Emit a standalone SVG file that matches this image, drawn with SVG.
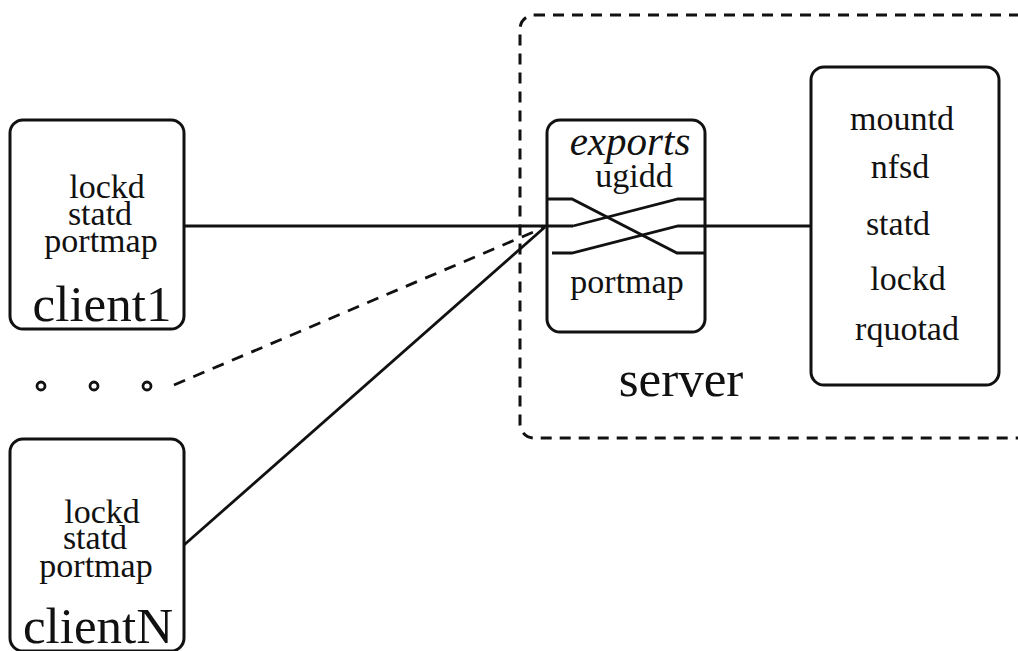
<svg xmlns="http://www.w3.org/2000/svg" width="1018" height="651" viewBox="0 0 1018 651">
  <style>
    .box { fill: none; stroke: #111; stroke-width: 3; }
    .dash { fill: none; stroke: #111; stroke-width: 3; stroke-dasharray: 11 8; }
    .wire { fill: none; stroke: #111; stroke-width: 2.8; }
    .dwire { fill: none; stroke: #111; stroke-width: 2.8; stroke-dasharray: 12 9; }
    .dot { fill: none; stroke: #111; stroke-width: 2.8; }
    text { font-family: "Liberation Serif", "Times New Roman", serif; fill: #111; text-anchor: middle; }
    .svc { font-size: 34px; }
    .host { font-size: 51px; }
    .exp { font-size: 41px; font-style: italic; }
  </style>
  <rect width="1018" height="651" fill="#fff"/>

  <!-- server enclosure -->
  <g id="server">
    <rect class="dash" x="520" y="15" width="530" height="423" rx="14"/>
    <text class="host" x="681" y="396">server</text>
  </g>

  <!-- connectors -->
  <g id="connectors">
    <line class="wire" x1="184" y1="226" x2="573" y2="226"/>
    <line class="wire" x1="184" y1="545" x2="545" y2="227"/>
    <line class="dwire" x1="174" y1="385" x2="543" y2="228"/>
    <!-- crossover inside the export filter -->
    <path class="wire" d="M547,199 H572 L677,253 H705"/>
    <path class="wire" d="M573,226 L678,199 H705"/>
    <path class="wire" d="M552,253 H572 L678,226 H810"/>
  </g>

  <g id="client1">
    <rect class="box" x="10" y="120" width="174" height="209" rx="13"/>
    <text class="svc" x="107" y="198">lockd</text>
    <text class="svc" x="100" y="225">statd</text>
    <text class="svc" x="101" y="252">portmap</text>
    <text class="host" x="102" y="321">client1</text>
  </g>

  <g id="more-clients">
    <circle class="dot" cx="41" cy="386" r="4"/>
    <circle class="dot" cx="94" cy="386" r="4"/>
    <circle class="dot" cx="147" cy="386" r="4"/>
  </g>

  <g id="clientN">
    <rect class="box" x="10" y="439" width="174" height="212" rx="13"/>
    <text class="svc" x="102" y="523">lockd</text>
    <text class="svc" x="95" y="549">statd</text>
    <text class="svc" x="96" y="577">portmap</text>
    <text class="host" x="98" y="643">clientN</text>
  </g>

  <g id="exports">
    <rect class="box" x="547" y="120" width="158" height="212" rx="13"/>
    <text class="exp" x="630" y="155">exports</text>
    <text class="svc" x="634" y="187">ugidd</text>
    <text class="svc" x="627" y="293">portmap</text>
  </g>

  <g id="daemons">
    <rect class="box" x="811" y="67" width="188" height="318" rx="13"/>
    <text class="svc" x="902" y="130">mountd</text>
    <text class="svc" x="900" y="178">nfsd</text>
    <text class="svc" x="898" y="235">statd</text>
    <text class="svc" x="908" y="290">lockd</text>
    <text class="svc" x="907" y="340">rquotad</text>
  </g>
</svg>
